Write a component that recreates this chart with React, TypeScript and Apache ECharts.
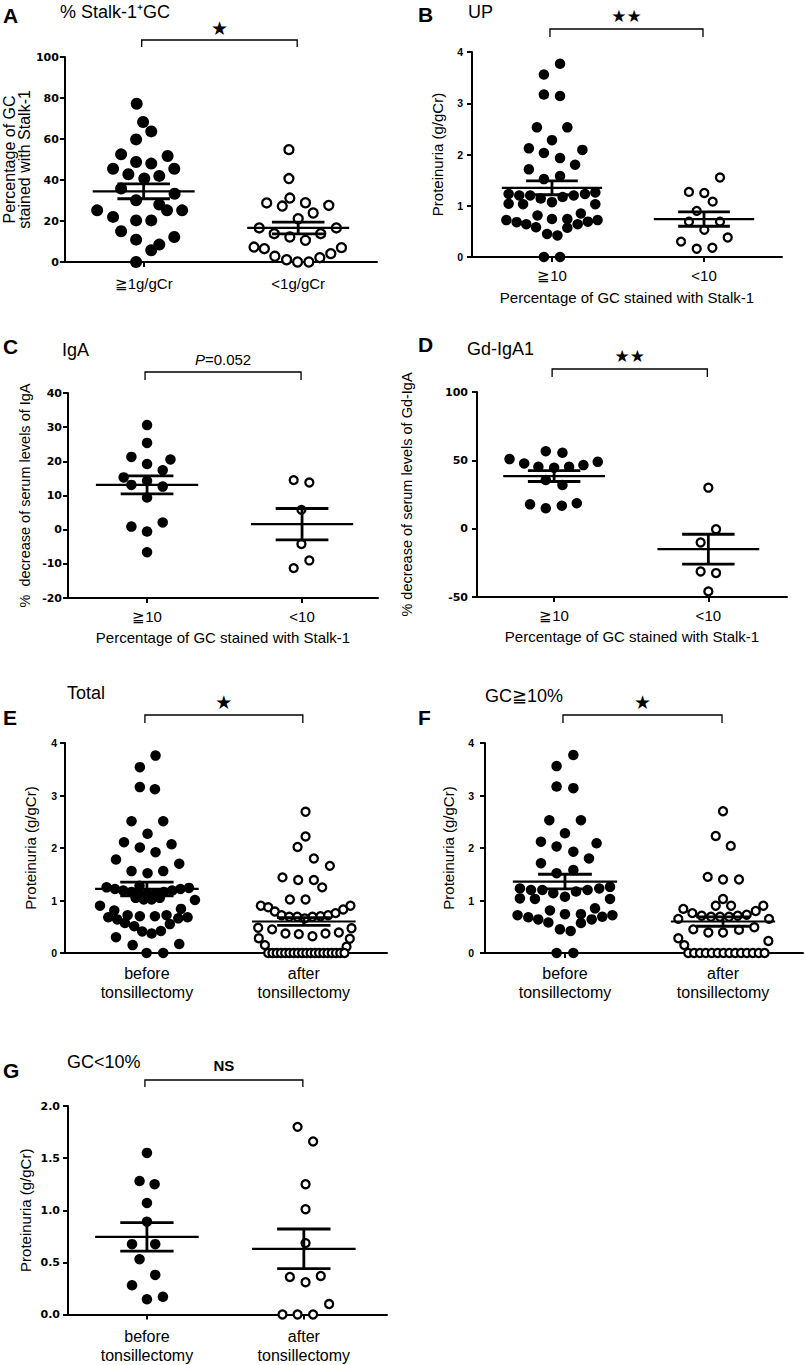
import React, { useEffect, useRef } from 'react';
import * as echarts from 'echarts';

type Pt = [number, number];

// ---------- categories / axis texts ----------
const CATS_UP = ['≧1g/gCr', '<1g/gCr'];
const CATS_GC = ['≧10', '<10'];
const CATS_TONSIL = ['before\ntonsillectomy', 'after\ntonsillectomy'];
const X_NAME_GC = 'Percentage of GC stained with Stalk-1';

// ---------- A: % Stalk-1+GC ----------
const A_HIGH_UP: Pt[] = [
  [0.955, 77.2], [0.996, 68.3], [1.049, 63.7], [0.951, 59.8], [0.854, 52.5], [1.155, 51.7],
  [0.802, 45.5], [0.951, 48.8], [1.049, 48.0], [1.198, 45.5], [0.901, 42.8], [1.101, 42.0],
  [1.004, 40.7], [0.854, 35.8], [1.2, 33.3], [0.951, 30.1], [1.101, 28.0], [0.699, 25.2],
  [1.151, 25.2], [1.249, 25.2], [0.802, 22.0], [0.951, 20.3], [1.049, 20.3], [0.854, 15.0],
  [1.198, 12.2], [0.951, 10.9], [1.101, 8.5], [1.049, 5.7], [0.951, 0],
];
const A_LOW_UP: Pt[] = [
  [1.94, 54.8], [1.94, 40.7], [1.946, 31.2], [1.796, 28.8], [1.897, 27.3], [2.047, 28.9],
  [2.198, 27.6], [2.097, 23.9], [2.0, 21.1], [1.748, 16.6], [2.247, 16.6], [1.845, 13.8],
  [1.946, 12.2], [2.047, 10.6], [2.146, 13.8], [1.714, 7.3], [1.781, 6.5], [2.28, 7.0],
  [1.849, 2.8], [1.925, 1.1], [1.996, 0], [2.069, 0], [2.14, 2.1], [2.211, 4.1],
];
const A_MEAN = [34.5, 16.6];
const A_SEM = [3.65, 2.85];

// ---------- B / F before: UP in GC>=10 ----------
const UP_HIGH_GC: Pt[] = [
  [1.053, 3.77], [0.947, 3.56], [0.947, 3.17], [1.053, 3.14], [0.901, 2.53], [1.101, 2.53],
  [1.0, 2.28], [0.848, 2.12], [0.947, 2.03], [1.2, 2.09], [1.053, 1.93], [1.152, 1.80],
  [0.848, 1.71], [1.053, 1.58], [0.947, 1.52],
  [0.715, 1.23], [0.785, 1.20], [0.857, 1.20], [0.926, 1.14], [1.07, 1.17], [1.143, 1.20],
  [1.217, 1.23], [1.285, 1.26], [1.0, 1.07], [0.715, 1.04], [0.81, 1.03], [1.285, 1.03],
  [0.7, 0.72], [0.768, 0.68], [0.831, 0.64], [0.905, 0.81], [0.895, 0.58], [1.0, 0.74],
  [1.101, 0.74], [1.19, 0.85], [1.169, 0.64], [1.236, 0.69], [1.3, 0.72], [1.101, 0.57],
  [0.968, 0.45], [1.036, 0.42], [0.947, 0], [1.053, 0],
];
const UP_LOW_GC: Pt[] = [
  [2.105, 1.55], [1.901, 1.27], [2.002, 1.25], [2.057, 1.08], [1.952, 0.90], [1.901, 0.69],
  [2.105, 0.69], [2.002, 0.53], [2.156, 0.38], [1.849, 0.30], [1.952, 0.16], [2.055, 0.18],
];
const B_MEAN = [1.35, 0.74];
const B_SEM = [0.135, 0.14];

// ---------- C: IgA ----------
const C_HIGH: Pt[] = [
  [1.0, 30.6], [1.0, 25.4], [0.899, 21.3], [1.151, 20.55], [1.0, 19.2], [1.101, 17.4],
  [0.849, 15.3], [0.899, 13.1], [1.0, 14.3], [1.101, 12.6], [1.0, 9.4], [0.899, 0.9],
  [1.101, 2.1], [1.0, -0.55], [1.0, -6.6],
];
const C_LOW: Pt[] = [
  [1.946, 14.5], [2.047, 13.8], [1.996, 5.8], [1.996, -4.2], [1.946, -11.25], [2.047, -9.0],
];
const C_MEAN = [13.1, 1.6];
const C_SEM = [2.65, 4.6];

// ---------- D: Gd-IgA1 ----------
const D_HIGH: Pt[] = [
  [0.711, 50.9], [0.806, 47.7], [0.898, 45.3], [0.946, 56.7], [1.054, 55.5], [1.0, 44.6],
  [1.097, 45.3], [1.19, 46.5], [1.283, 48.9], [0.946, 35.6], [1.054, 31.9], [0.844, 17.8],
  [0.946, 14.9], [1.05, 16.8], [1.147, 18.6],
];
const D_LOW: Pt[] = [
  [2.0, 30.0], [2.05, -0.4], [1.95, -10.1], [1.95, -31.3], [2.05, -32.5], [2.0, -45.9],
];
const D_MEAN = [38.5, -15];
const D_SEM = [4.0, 10.9];

// ---------- E: Total ----------
const E_BEFORE: Pt[] = [
  [1.055, 3.76], [0.955, 3.54], [0.955, 3.16], [1.051, 3.12], [0.902, 2.51], [1.104, 2.51],
  [1.004, 2.27], [0.854, 2.11], [0.955, 2.01], [1.157, 2.07], [1.055, 1.92], [0.803, 1.78],
  [1.206, 1.70], [0.902, 1.56], [1.104, 1.56], [1.004, 1.52],
  [0.743, 1.25], [0.796, 1.22], [0.849, 1.19], [0.902, 1.16], [0.951, 1.14], [1.004, 1.13],
  [1.057, 1.14], [1.108, 1.16], [1.161, 1.19], [1.214, 1.22], [1.268, 1.24], [0.953, 1.28],
  [0.701, 0.90], [1.306, 1.01], [0.928, 1.05], [0.98, 1.02], [1.03, 1.02], [1.082, 1.05],
  [0.792, 0.81], [0.754, 0.68], [0.811, 0.64], [0.877, 0.72], [0.955, 0.70], [1.051, 0.70],
  [1.125, 0.72], [1.217, 0.84], [1.259, 0.68], [1.2, 0.66], [0.86, 0.57], [0.919, 0.51],
  [1.146, 0.55], [0.97, 0.41], [1.03, 0.37], [1.089, 0.42], [0.803, 0.30], [0.909, 0.15],
  [1.206, 0.17], [0.998, 0], [1.104, 0],
];
const E_AFTER: Pt[] = [
  [2.011, 2.69], [2.011, 2.22], [1.96, 2.02], [2.064, 1.80], [2.166, 1.66], [1.864, 1.44],
  [1.964, 1.39], [2.064, 1.39], [2.117, 1.25], [1.911, 1.02], [2.011, 1.02],
  [1.726, 0.90], [1.773, 0.87], [1.815, 0.79], [1.858, 0.72], [1.907, 0.69], [1.958, 0.69],
  [2.006, 0.66], [2.055, 0.69], [2.106, 0.70], [2.155, 0.72], [2.202, 0.76], [2.251, 0.83],
  [2.297, 0.90], [1.709, 0.48], [1.798, 0.45], [1.883, 0.37], [1.968, 0.36], [2.055, 0.32],
  [2.138, 0.37], [2.223, 0.39], [2.304, 0.47], [1.713, 0.28], [1.752, 0.15], [2.293, 0.27],
  [2.272, 0.12],
  [1.773, 0], [1.8, 0], [1.827, 0], [1.854, 0], [1.881, 0], [1.908, 0], [1.935, 0],
  [1.962, 0], [1.989, 0], [2.016, 0], [2.043, 0], [2.07, 0], [2.097, 0], [2.124, 0],
  [2.151, 0], [2.178, 0], [2.205, 0], [2.232, 0], [2.259, 0],
];
const E_MEAN = [1.22, 0.6];
const E_SEM = [0.13, 0.075];

// ---------- F: GC>=10% ----------
const F_AFTER: Pt[] = [
  [2.0, 2.70], [1.954, 2.23], [2.049, 2.04], [1.903, 1.45], [2.0, 1.40], [2.101, 1.40],
  [2.0, 1.03], [1.954, 0.90], [2.051, 0.90], [1.749, 0.84], [2.255, 0.90], [1.806, 0.76],
  [1.865, 0.71], [1.924, 0.69], [1.981, 0.69], [2.038, 0.69], [2.093, 0.71], [2.15, 0.73],
  [2.207, 0.80], [1.717, 0.65], [2.291, 0.65], [1.812, 0.45], [1.907, 0.39], [2.0, 0.39],
  [2.101, 0.44], [2.198, 0.49], [1.717, 0.28], [1.755, 0.15], [2.287, 0.23],
  [1.78, 0], [1.817, 0], [1.854, 0], [1.891, 0], [1.929, 0], [1.966, 0], [2.003, 0],
  [2.04, 0], [2.077, 0], [2.114, 0], [2.151, 0], [2.189, 0], [2.226, 0], [2.263, 0],
];
const F_MEAN = [1.36, 0.6];
const F_SEM = [0.14, 0.09];

// ---------- G: GC<10% ----------
const G_BEFORE: Pt[] = [
  [1.0, 1.55], [0.953, 1.28], [1.049, 1.25], [1.0, 1.07], [1.0, 0.89], [0.905, 0.675],
  [1.053, 0.675], [0.953, 0.53], [1.053, 0.38], [0.905, 0.28], [1.0, 0.146], [1.102, 0.17],
];
const G_AFTER: Pt[] = [
  [1.96, 1.80], [2.059, 1.66], [2.011, 1.25], [2.011, 1.01], [2.011, 0.685], [1.911, 0.36],
  [2.108, 0.37], [2.011, 0.31], [2.161, 0.10], [1.864, 0], [1.96, 0], [2.059, 0],
];
const G_MEAN = [0.745, 0.63];
const G_SEM = [0.137, 0.19];

// ---------- layout / styling per panel ----------
const FONT = 'Liberation Sans';
const MEAN_HW = 0.33;
const SEM_HW = 0.17;

const PANELS: any[] = [
  {
    letter: 'A', lx: 3, ly: 15, title: '% Stalk-1⁺GC', tx: 60, ty: 12,
    grid: { left: 64, top: 57, width: 313, height: 205 }, xr: [0.49, 2.51], yr: [0, 100, 20],
    cats: CATS_UP, filled: A_HIGH_UP, open: A_LOW_UP, mean: A_MEAN, sem: A_SEM,
    yName: 'Percentage of GC\nstained with Stalk-1', yNameGap: 28, yNameSize: 16, yNameLH: 15,
    yLabFam: 'DejaVu Sans', yLabSize: 11, yLabMargin: 6, xLabMargin: 13, xLabLH: 17, xLabSize: 15,
    xName: '', xNameGap: 0, sig: '★', sigFont: '19px DejaVu Sans', bGap: 17, sGap: 12, drop: 7,
    dotF: 12, dotO: 9,
  },
  {
    letter: 'B', lx: 418, ly: 14, title: 'UP', tx: 468, ty: 12,
    grid: { left: 472, top: 52, width: 310, height: 205 }, xr: [0.474, 2.513], yr: [0, 4, 1],
    cats: CATS_GC, filled: UP_HIGH_GC, open: UP_LOW_GC, mean: B_MEAN, sem: B_SEM,
    yName: 'Proteinuria (g/gCr)', yNameGap: 27, yNameSize: 15, yNameLH: 15,
    yLabFam: FONT, yLabSize: 10.5, yLabMargin: 9, xLabMargin: 10, xLabLH: 17, xLabSize: 15,
    xName: X_NAME_GC, xNameGap: 33, sig: '★★', sigFont: '17px DejaVu Sans', bGap: 23, sGap: 13, drop: 8,
    dotF: 10.5, dotO: 8,
  },
  {
    letter: 'C', lx: 3, ly: 346, title: 'IgA', tx: 62, ty: 350,
    grid: { left: 68, top: 393, width: 310, height: 205 }, xr: [0.49, 2.49], yr: [-20, 40, 10],
    cats: CATS_GC, filled: C_HIGH, open: C_LOW, mean: C_MEAN, sem: C_SEM,
    yName: '%  decrease of serum levels of IgA', yNameGap: 36, yNameSize: 14.5, yNameLH: 15,
    yLabFam: 'DejaVu Sans', yLabSize: 11, yLabMargin: 6, xLabMargin: 9.5, xLabLH: 17, xLabSize: 15,
    xName: X_NAME_GC, xNameGap: 32, sig: '{i|P}{n|=0.052}', sigFont: '15px ' + FONT, bGap: 21, sGap: 13, drop: 8,
    dotF: 10.5, dotO: 8,
  },
  {
    letter: 'D', lx: 418, ly: 344, title: 'Gd-IgA1', tx: 467, ty: 349,
    grid: { left: 477, top: 392, width: 310, height: 205 }, xr: [0.5, 2.51], yr: [-50, 100, 50],
    cats: CATS_GC, filled: D_HIGH, open: D_LOW, mean: D_MEAN, sem: D_SEM,
    yName: '% decrease of serum levels of Gd-IgA', yNameGap: 63, yNameSize: 14.5, yNameLH: 15,
    yLabFam: 'DejaVu Sans', yLabSize: 11, yLabMargin: 9, xLabMargin: 9.5, xLabLH: 17, xLabSize: 15,
    xName: X_NAME_GC, xNameGap: 32, sig: '★★', sigFont: '17px DejaVu Sans', bGap: 23, sGap: 13, drop: 8,
    dotF: 10.5, dotO: 8,
  },
  {
    letter: 'E', lx: 3, ly: 717, title: 'Total', tx: 67, ty: 693,
    grid: { left: 65, top: 743, width: 322, height: 210 }, xr: [0.478, 2.53], yr: [0, 4, 1],
    cats: CATS_TONSIL, filled: E_BEFORE, open: E_AFTER, mean: E_MEAN, sem: E_SEM,
    yName: 'Proteinuria (g/gCr)', yNameGap: 27.5, yNameSize: 15, yNameLH: 15,
    yLabFam: FONT, yLabSize: 10.5, yLabMargin: 8, xLabMargin: 10.5, xLabLH: 19, xLabSize: 16,
    xName: '', xNameGap: 0, sig: '★', sigFont: '19px DejaVu Sans', bGap: 28, sGap: 13, drop: 8,
    dotF: 10.5, dotO: 8,
  },
  {
    letter: 'F', lx: 418, ly: 717, title: 'GC≧10%', tx: 485, ty: 696,
    grid: { left: 485, top: 743, width: 318, height: 210 }, xr: [0.494, 2.506], yr: [0, 4, 1],
    cats: CATS_TONSIL, filled: UP_HIGH_GC, open: F_AFTER, mean: F_MEAN, sem: F_SEM,
    yName: 'Proteinuria (g/gCr)', yNameGap: 29.5, yNameSize: 15, yNameLH: 15,
    yLabFam: FONT, yLabSize: 10.5, yLabMargin: 11, xLabMargin: 10.5, xLabLH: 19, xLabSize: 16,
    xName: '', xNameGap: 0, sig: '★', sigFont: '19px DejaVu Sans', bGap: 28, sGap: 13, drop: 8,
    dotF: 10.5, dotO: 8,
  },
  {
    letter: 'G', lx: 3, ly: 1070, title: 'GC<10%', tx: 67, ty: 1062,
    grid: { left: 68, top: 1106, width: 319, height: 210 }, xr: [0.497, 2.53], yr: [0, 2, 0.5],
    cats: CATS_TONSIL, filled: G_BEFORE, open: G_AFTER, mean: G_MEAN, sem: G_SEM,
    yName: 'Proteinuria (g/gCr)', yNameGap: 35.5, yNameSize: 15, yNameLH: 15,
    yLabFam: 'DejaVu Sans', yLabSize: 11, yLabMargin: 8, xLabMargin: 12.5, xLabLH: 19, xLabSize: 16,
    xName: '', xNameGap: 0, sig: 'NS', sigFont: 'bold 15px ' + FONT, bGap: 26, sGap: 15, drop: 7,
    dotF: 10.5, dotO: 8,
  },
];

function line(x1: number, y1: number, x2: number, y2: number, w: number) {
  return { type: 'line', shape: { x1, y1, x2, y2 }, style: { stroke: '#000', lineWidth: w } };
}

function errRender(_params: any, api: any) {
  const c = api.value(0);
  const m = api.value(1);
  const s = api.value(2);
  const a = api.coord([c - MEAN_HW, m]);
  const b = api.coord([c + MEAN_HW, m]);
  const u1 = api.coord([c - SEM_HW, m + s]);
  const u2 = api.coord([c + SEM_HW, m + s]);
  const d1 = api.coord([c - SEM_HW, m - s]);
  const d2 = api.coord([c + SEM_HW, m - s]);
  return {
    type: 'group',
    children: [
      line(a[0], a[1], b[0], b[1], 2.2),
      line(u1[0], u1[1], u2[0], u2[1], 2.8),
      line(d1[0], d1[1], d2[0], d2[1], 2.8),
      line((u1[0] + u2[0]) / 2, u1[1], (d1[0] + d2[0]) / 2, d1[1], 2.8),
    ],
  };
}

function bracketRender(p: any) {
  return (_params: any, api: any) => {
    const a = api.coord([api.value(0), p.yr[1]]);
    const b = api.coord([api.value(1), p.yr[1]]);
    const y = a[1] - p.bGap;
    const x1 = a[0] - 2;
    const x2 = b[0] - 1;
    return {
      type: 'group',
      children: [
        {
          type: 'polyline',
          shape: { points: [[x1, y + p.drop], [x1, y], [x2, y], [x2, y + p.drop]] },
          style: { stroke: '#000', lineWidth: 1.3, fill: 'none' },
        },
        {
          type: 'text',
          style: {
            text: p.sig, x: (x1 + x2) / 2, y: y - p.sGap, font: p.sigFont, fill: '#000',
            align: 'center', verticalAlign: 'middle', textAlign: 'center', textVerticalAlign: 'middle',
            rich: {
              i: { fontStyle: 'italic', fontSize: 15, fontFamily: FONT, fill: '#000' },
              n: { fontSize: 15, fontFamily: FONT, fill: '#000' },
            },
          },
        },
      ],
    };
  };
}

function buildOption() {
  const grid: any[] = [];
  const xAxis: any[] = [];
  const yAxis: any[] = [];
  const series: any[] = [];
  const graphic: any[] = [];

  PANELS.forEach((p, i) => {
    grid.push({ ...p.grid, containLabel: false });
    xAxis.push({
      type: 'value', gridIndex: i, min: p.xr[0], max: p.xr[1],
      splitLine: { show: false },
      axisLine: { show: true, onZero: false, lineStyle: { color: '#000', width: 2 } },
      axisTick: { show: true, customValues: [1, 2], length: 5, lineStyle: { color: '#000', width: 2 } },
      axisLabel: {
        show: true, customValues: [1, 2], color: '#000', fontFamily: FONT, fontSize: p.xLabSize,
        lineHeight: p.xLabLH, margin: p.xLabMargin,
        formatter: (v: number) => p.cats[Math.round(v) - 1] ?? '',
      },
      name: p.xName, nameLocation: 'middle', nameGap: p.xNameGap,
      nameTextStyle: { color: '#000', fontFamily: FONT, fontSize: 15 },
    });
    yAxis.push({
      type: 'value', gridIndex: i, min: p.yr[0], max: p.yr[1], interval: p.yr[2],
      splitLine: { show: false },
      axisLine: { show: true, onZero: false, lineStyle: { color: '#000', width: 2 } },
      axisTick: { show: true, length: 5, lineStyle: { color: '#000', width: 2 } },
      axisLabel: {
        color: '#000', fontFamily: p.yLabFam, fontWeight: 'bold', fontSize: p.yLabSize, margin: p.yLabMargin,
        formatter: (v: number) => (p.yr[2] < 1 ? v.toFixed(1) : String(v)),
      },
      name: p.yName, nameLocation: 'middle', nameGap: p.yNameGap, nameRotate: 90,
      nameTextStyle: { color: '#000', fontFamily: FONT, fontSize: p.yNameSize, lineHeight: p.yNameLH },
    });
    series.push({
      type: 'scatter', xAxisIndex: i, yAxisIndex: i, data: p.filled, symbol: 'circle',
      symbolSize: p.dotF, itemStyle: { color: '#000', opacity: 1 }, clip: false, z: 2, silent: true,
    });
    series.push({
      type: 'scatter', xAxisIndex: i, yAxisIndex: i, data: p.open, symbol: 'circle',
      symbolSize: p.dotO, itemStyle: { color: '#fff', borderColor: '#000', borderWidth: 2.3, opacity: 1 },
      clip: false, z: 2, silent: true,
    });
    series.push({
      type: 'custom', xAxisIndex: i, yAxisIndex: i, clip: false, z: 3, silent: true,
      data: [[1, p.mean[0], p.sem[0]], [2, p.mean[1], p.sem[1]]],
      renderItem: errRender,
    });
    series.push({
      type: 'custom', xAxisIndex: i, yAxisIndex: i, clip: false, z: 3, silent: true,
      data: [[1, 2]],
      renderItem: bracketRender(p),
    });
    graphic.push({
      type: 'text', x: p.lx, y: p.ly,
      style: { text: p.letter, font: 'bold 21px ' + FONT, fill: '#000', verticalAlign: 'middle', textVerticalAlign: 'middle' },
    });
    graphic.push({
      type: 'text', x: p.tx, y: p.ty,
      style: { text: p.title, font: '18px ' + FONT, fill: '#000', verticalAlign: 'middle', textVerticalAlign: 'middle' },
    });
  });

  return {
    animation: false,
    backgroundColor: '#fff',
    textStyle: { fontFamily: FONT },
    grid, xAxis, yAxis, series, graphic,
  };
}

export default function App() {
  const ref = useRef<HTMLDivElement>(null);
  useEffect(() => {
    if (!ref.current) return;
    const chart = echarts.init(ref.current, null, { renderer: 'svg' });
    chart.setOption(buildOption() as any);
    return () => chart.dispose();
  }, []);
  return (
    <div
      ref={ref}
      style={{ position: 'absolute', left: 0, top: 0, width: 805, height: 1365, background: '#fff' }}
    />
  );
}
